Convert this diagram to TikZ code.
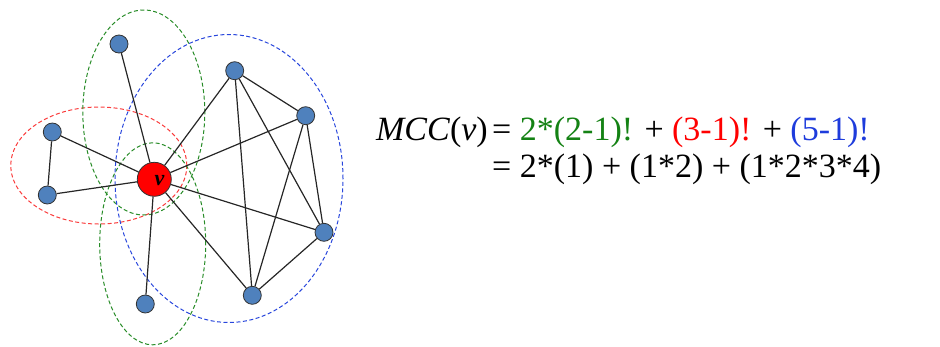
\documentclass[tikz,border=0pt]{standalone}
\usepackage{fontspec}
\setmainfont{Liberation Serif}
\definecolor{nodeblue}{RGB}{79,129,189}
\definecolor{ringgreen}{RGB}{40,140,40}
\definecolor{ringblue}{RGB}{40,70,220}
\definecolor{ringred}{RGB}{250,60,60}
\definecolor{txtgreen}{RGB}{20,130,20}
\definecolor{txtblue}{RGB}{30,60,220}
\begin{document}
\begin{tikzpicture}[x=1pt,y=-1pt,
  vert/.style={circle,draw=black!80,line width=0.8pt,fill=nodeblue,minimum size=18pt,inner sep=0pt},
  center/.style={circle,draw=black!80,line width=0.8pt,fill=red,minimum size=34pt,inner sep=0pt},
  edge/.style={draw=black!85,line width=1.2pt},
  ring/.style={dashed,dash pattern=on 4pt off 2.5pt,line width=1pt},
  eq/.style={font=\fontsize{34}{40}\selectfont,inner sep=0pt,anchor=base west}]
\useasboundingbox (0,0) rectangle (940,346);
% groups
\draw[ring,ringred] (98.8,165.5) ellipse [x radius=88pt, y radius=58.5pt];
\draw[ring,ringgreen] (143.8,112.5) ellipse [x radius=61pt, y radius=102.5pt];
\draw[ring,ringgreen] (152.7,243.8) ellipse [x radius=53pt, y radius=101pt];
\draw[ring,ringblue] (229,178.5) ellipse [x radius=114pt, y radius=144pt];
% nodes
\node[center] (v) at (154.3,179.3) {};
\node[font=\fontsize{22}{22}\selectfont\bfseries\itshape,inner sep=0pt] (vl) at (159.5,180.5) {v};
\node[vert] (a) at (119,44) {};
\node[vert] (b) at (52.3,132) {};
\node[vert] (c) at (47.3,195) {};
\node[vert] (d) at (145.3,304) {};
\node[vert] (p) at (234.7,70.7) {};
\node[vert] (q) at (305.7,115.7) {};
\node[vert] (r) at (324,232.3) {};
\node[vert] (s) at (252.3,295.3) {};
% edges
\path[edge] (v) -- (a);
\path[edge] (v) -- (b);
\path[edge] (v) -- (c);
\path[edge] (b) -- (c);
\path[edge] (v) -- (d);
\path[edge] (v) -- (p);
\path[edge] (v) -- (q);
\path[edge] (v) -- (r);
\path[edge] (v) -- (s);
\path[edge] (p) -- (q);
\path[edge] (p) -- (r);
\path[edge] (p) -- (s);
\path[edge] (q) -- (r);
\path[edge] (q) -- (s);
\path[edge] (r) -- (s);
% formula
\node[eq,anchor=base east] (lhs) at (488,140) {\textit{MCC}(\textit{v})};
\node[eq] (rhs1) at (492,140) {= \textcolor{txtgreen}{2*(2-1)!} + \textcolor{red}{(3-1)!} + \textcolor{txtblue}{(5-1)!}};
\node[eq] (rhs2) at (492,177) {= 2*(1) + (1*2) + (1*2*3*4)};
\end{tikzpicture}
\end{document}
